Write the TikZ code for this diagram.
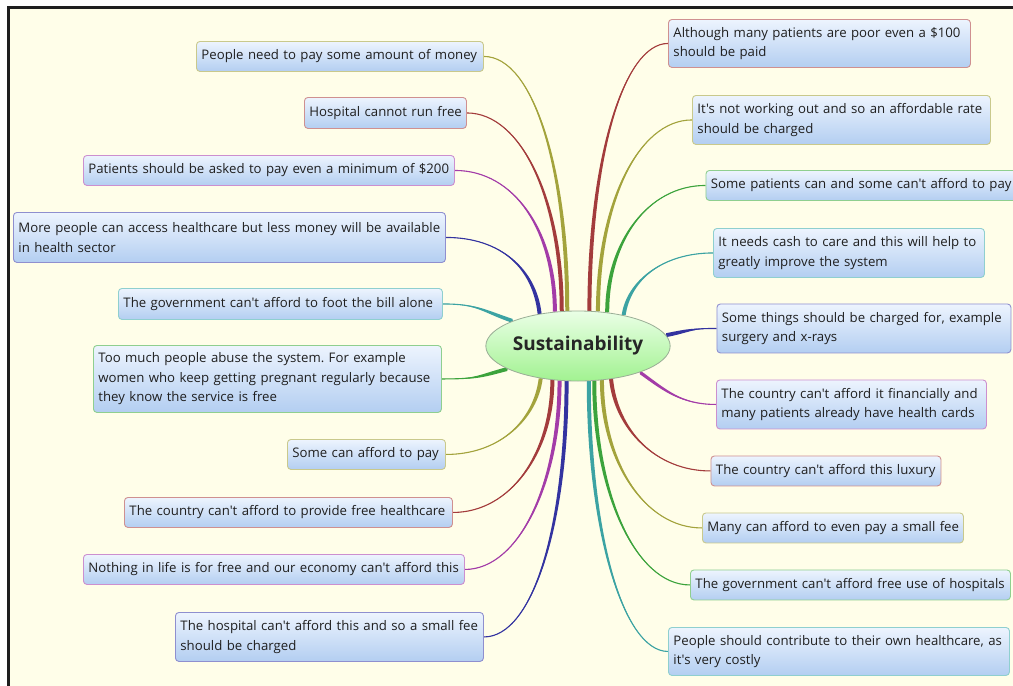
\documentclass[tikz,border=0pt]{standalone}
\usepackage{fontspec}
\setmainfont{Open Sans}[Ligatures=TeXOff]
\usetikzlibrary{shapes.geometric}
\pgfdeclarelayer{under}
\pgfsetlayers{under,main}
\frenchspacing
\begin{document}
\definecolor{paper}{HTML}{FFFEE9}
\definecolor{frameline}{HTML}{1E1E1E}
\definecolor{boxtop}{HTML}{EDF4FE}
\definecolor{boxbot}{HTML}{B3CEF1}
\definecolor{cOlive}{HTML}{A3A33C}
\definecolor{cRed}{HTML}{A33C3C}
\definecolor{cPurple}{HTML}{A33CA8}
\definecolor{cNavy}{HTML}{3333A0}
\definecolor{cTeal}{HTML}{3CA3A3}
\definecolor{cGreen}{HTML}{3CA33C}
\definecolor{rOlive}{HTML}{C9C98C}
\definecolor{rRed}{HTML}{CF9090}
\definecolor{rPurple}{HTML}{CC8FCF}
\definecolor{rNavy}{HTML}{8F8FCF}
\definecolor{rTeal}{HTML}{8FCFCF}
\definecolor{rGreen}{HTML}{8FCF8F}
\definecolor{hubtop}{HTML}{EAFFE6}
\definecolor{hubbot}{HTML}{A2F291}
\definecolor{hubrim}{HTML}{9AAE96}
\tikzset{
  topic/.style={draw=#1, line width=0.9pt, rounded corners=3.5pt,
    top color=boxtop, bottom color=boxbot, anchor=north west,
    inner xsep=5pt, inner ysep=0pt, align=left,
    font=\fontsize{13.2}{19.5}\selectfont, text=black!88},
  hub/.style={ellipse, draw=hubrim, line width=0.8pt, top color=hubtop,
    bottom color=hubbot, minimum width=174pt, minimum height=70pt,
    inner sep=0pt, font=\fontsize{19}{22}\selectfont\bfseries, text=black!85},
}
% tapered branch: colour, start, first control, second control, end, shift key
\newcommand\twig[6]{%
  \fill[#1] ([#6=-2pt]#2) .. controls +#3 and +#4 .. (#5)
     .. controls +#4 and +#3 .. ([#6=2pt]#2) -- cycle;
  \draw[#1, line width=1.1pt] (#2) .. controls +#3 and +#4 .. (#5);
}
\begin{tikzpicture}[x=1pt, y=-1pt]
\useasboundingbox (0,0) rectangle (1013,686);
\begin{pgfonlayer}{under}
\fill[white] (0,0) rectangle (1013,686);
\fill[paper] (9,7.5) rectangle (1013,686);
\draw[frameline, line width=2.7pt] (8.6,686) -- (8.6,7.4) -- (1013,7.4);
\end{pgfonlayer}

\node[hub] (c) at (578,346) {Sustainability};

% left-hand topics
\node[topic=rOlive, minimum height=30pt, text width=277pt] (l1) at (196,41) {\mbox{People need to pay some amount of money}};
\node[topic=rRed, minimum height=31pt, text width=152pt] (l2) at (304,97) {\mbox{Hospital cannot run free}};
\node[topic=rPurple, minimum height=30pt, text width=361pt] (l3) at (83,155) {\mbox{Patients should be asked to pay even a minimum of \$200}};
\node[topic=rNavy, minimum height=50pt, text width=422pt] (l4) at (13,212) {More people can access healthcare but less money will be available\\in health sector};
\node[topic=rTeal, minimum height=31pt, text width=314pt] (l5) at (118,288) {\mbox{The government can't afford to foot the bill alone}};
\node[topic=rGreen, minimum height=67pt, text width=338pt] (l6) at (93,345) {Too much people abuse the system. For example\\women who keep getting pregnant regularly because\\they know the service is free};
\node[topic=rOlive, minimum height=30pt, text width=148pt] (l7) at (287,439) {\mbox{Some can afford to pay}};
\node[topic=rRed, minimum height=30pt, text width=318pt] (l8) at (124,497) {\mbox{The country can't afford to provide free healthcare}};
\node[topic=rPurple, minimum height=30pt, text width=371pt] (l9) at (83,554) {\mbox{Nothing in life is for free and our economy can't afford this}};
\node[topic=rNavy, minimum height=49pt, text width=298pt] (l10) at (175,612) {The hospital can't afford this and so a small fee\\should be charged};

% right-hand topics
\node[topic=rRed, minimum height=48pt, text width=292pt] (r1) at (668,19) {Although many patients are poor even a \$100\\should be paid};
\node[topic=rOlive, minimum height=49pt, text width=288pt] (r2) at (692,95) {It's not working out and so an affordable rate\\should be charged};
\node[topic=rGreen, minimum height=30pt, text width=320pt] (r3) at (705.5,170) {\mbox{Some patients can and some can't afford to pay}};
\node[topic=rTeal, minimum height=49pt, text width=261pt] (r4) at (713,228) {It needs cash to care and this will help to\\greatly improve the system};
\node[topic=rNavy, minimum height=49pt, text width=284pt] (r5) at (716.5,303.5) {Some things should be charged for, example\\surgery and x-rays};
\node[topic=rPurple, minimum height=49pt, text width=260pt] (r6) at (716,379.5) {The country can't afford it financially and\\many patients already have health cards};
\node[topic=rRed, minimum height=30pt, text width=220pt] (r7) at (710.5,455.5) {\mbox{The country can't afford this luxury}};
\node[topic=rOlive, minimum height=30pt, text width=251pt] (r8) at (702,512.5) {\mbox{Many can afford to even pay a small fee}};
\node[topic=rGreen, minimum height=30pt, text width=310pt] (r9) at (690,569.5) {\mbox{The government can't afford free use of hospitals}};
\node[topic=rTeal, minimum height=48pt, text width=331pt] (r10) at (668,627) {People should contribute to their own healthcare, as\\it's very costly};

\begin{pgfonlayer}{under}
% branches to the left
\twig{cOlive}{c.107.9}{(0,-140)}{(50,0)}{l1.east}{xshift}
\twig{cRed}{c.115.2}{(0,-110)}{(55,0)}{l2.east}{xshift}
\twig{cPurple}{c.124.9}{(0,-80)}{(60,0)}{l3.east}{xshift}
\twig{cNavy}{c.140.8}{(-5,-45)}{(55,0)}{l4.east}{xshift}
\twig{cTeal}{c.159}{(-30,-10)}{(35,0)}{l5.east}{yshift}
\twig{cGreen}{c.198}{(-30,8)}{(35,0)}{l6.east}{yshift}
\twig{cOlive}{c.221.1}{(-5,40)}{(55,0)}{l7.east}{xshift}
\twig{cRed}{c.233.4}{(0,72)}{(58,0)}{l8.east}{xshift}
\twig{cPurple}{c.242.8}{(0,100)}{(55,0)}{l9.east}{xshift}
\twig{cNavy}{c.252.5}{(0,140)}{(50,0)}{l10.east}{xshift}
% branches to the right
\twig{cRed}{c.72.1}{(0,-150)}{(-45,0)}{r1.west}{xshift}
\twig{cOlive}{c.60.8}{(0,-105)}{(-55,0)}{r2.west}{xshift}
\twig{cGreen}{c.49.7}{(0,-70)}{(-58,0)}{r3.west}{xshift}
\twig{cTeal}{c.34.6}{(5,-35)}{(-50,0)}{r4.west}{xshift}
\twig{cNavy}{c.7.6}{(25,-5)}{(-25,0)}{r5.west}{yshift}
\twig{cPurple}{c.337.9}{(25,18)}{(-35,0)}{r6.west}{yshift}
\twig{cRed}{c.315.8}{(5,50)}{(-55,0)}{r7.west}{xshift}
\twig{cOlive}{c.305.5}{(0,80)}{(-58,0)}{r8.west}{xshift}
\twig{cGreen}{c.295.9}{(0,110)}{(-55,0)}{r9.west}{xshift}
\twig{cTeal}{c.287.5}{(0,150)}{(-45,0)}{r10.west}{xshift}
\end{pgfonlayer}
\end{tikzpicture}
\end{document}
